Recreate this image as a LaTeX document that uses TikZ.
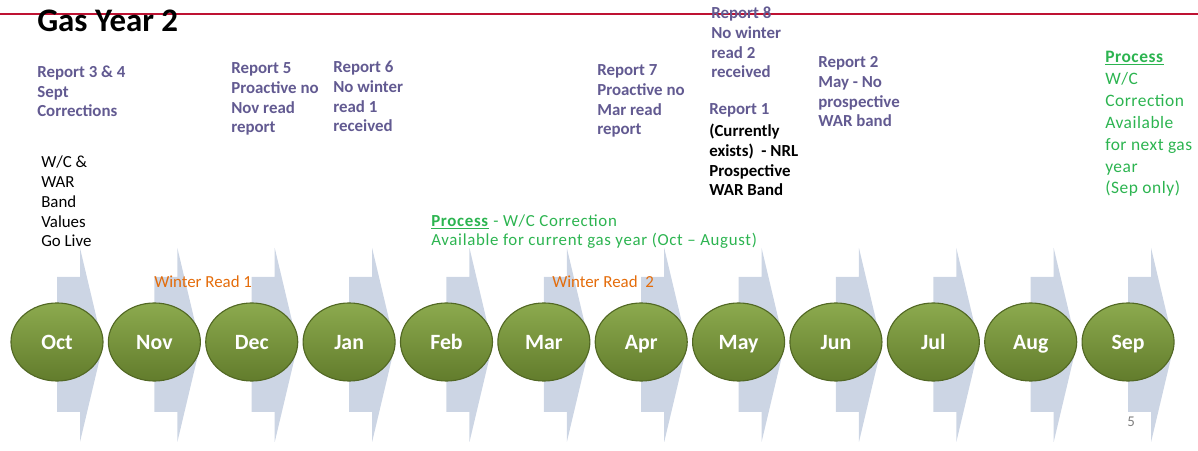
\documentclass[tikz,border=0pt]{standalone}
\usepackage{fontspec}
\setmainfont{Carlito}
\usepackage{tikz}
\usetikzlibrary{shapes.geometric}
\definecolor{reportColor}{RGB}{98,90,145}
\definecolor{processColor}{RGB}{44,180,80}
\definecolor{winterColor}{RGB}{228,108,10}
\definecolor{ruleColor}{RGB}{190,18,50}
\definecolor{arrowColor}{RGB}{204,213,228}
\definecolor{monthEdge}{RGB}{82,104,36}
\definecolor{monthTop}{RGB}{140,170,78}
\definecolor{monthMid}{RGB}{118,146,60}
\definecolor{monthBottom}{RGB}{98,124,44}
\definecolor{pageNumColor}{RGB}{128,128,128}
\tikzstyle{timeline} = [x = 0.025cm, y = -0.025cm]
\tikzstyle{monthArrowStyle} = [fill=arrowColor]
\tikzstyle{monthStyle} = [ellipse, minimum width=2.3cm, minimum height=1.95cm, inner sep=0pt, text height=10pt, text depth=0pt, draw=monthEdge, line width=0.8pt, top color=monthTop, middle color=monthMid, bottom color=monthBottom, text=white, font=\fontsize{15.5}{18}\selectfont\bfseries]
\tikzstyle{noteText} = [anchor=base west, align=left, inner sep=0pt, font=\fontsize{12}{14.17}\selectfont]
\tikzstyle{reportText} = [noteText, text=reportColor, font=\fontsize{12}{14.17}\selectfont\bfseries]
\tikzstyle{processText} = [noteText, text=processColor, font=\fontsize{12}{14.17}\selectfont\addfontfeature{LetterSpace=4}]
\tikzstyle{winterText} = [noteText, text=winterColor, font=\fontsize{12}{14.17}\selectfont]
\tikzstyle{ruleLine} = [color=ruleColor, line width=1.4pt]
\newcommand{\monthArrow}[1]{\fill [monthArrowStyle] (#1,277) -- ++(23,0) -- ++(0,-29) -- (#1+46,345) -- (#1+23,442) -- ++(0,-30) -- (#1,412) -- cycle;}

\begin{document}
\begin{tikzpicture}[timeline]
\useasboundingbox (0,0) rectangle (1198,451);
\draw [ruleLine] (0,14) -- (1198,14);
\node [noteText, font=\fontsize{23.4}{28}\selectfont\bfseries] (title) at (37,32) {Gas Year 2};
\foreach \m [count=\i from 0] in {Oct,Nov,Dec,Jan,Feb,Mar,Apr,May,Jun,Jul,Aug,Sep} {
  \pgfmathsetmacro{\cx}{57 + 97.37 * \i}
  \monthArrow{\cx}
}
\foreach \m [count=\i from 0] in {Oct,Nov,Dec,Jan,Feb,Mar,Apr,May,Jun,Jul,Aug,Sep} {
  \pgfmathsetmacro{\cx}{57 + 97.37 * \i}
  \node [monthStyle] (\m) at (\cx,342) {\m};
}
\node [reportText] (reportThreeFour) at (37,117) {Report 3 \& 4\\Sept\\Corrections};
\node [noteText] (goLive) at (41,247) {W/C \&\\WAR\\Band\\Values\\Go Live};
\node [reportText] (reportFive) at (231,133) {Report 5\\Proactive no\\Nov read\\report};
\node [reportText] (reportSix) at (333,132) {Report 6\\No winter\\read 1\\received};
\node [reportText] (reportSeven) at (597,135) {Report 7\\Proactive no\\Mar read\\report};
\node [reportText] (reportEight) at (711,78) {Report 8\\No winter\\read 2\\received};
\node [reportText] (reportOne) at (709,115) {Report 1};
\node [noteText, font=\fontsize{12}{14.17}\selectfont\bfseries] (nrlBand) at (709,196) {(Currently\\exists)\ \ - NRL\\Prospective\\WAR Band};
\node [reportText] (reportTwo) at (818,127) {Report 2\\May - No\\prospective\\WAR band};
\node [processText] (processMid) at (431,246) {\underline{\textbf{Process}} - W/C Correction\\Available for current gas year (Oct -- August)};
\node [processText, font=\fontsize{12.4}{15.6}\selectfont\addfontfeature{LetterSpace=3}] (processSep) at (1105,194) {\underline{\textbf{Process}}\\W/C\\Correction\\Available\\for next gas\\year\\(Sep only)};
\node [winterText] (winterOne) at (154,288) {Winter Read 1};
\node [winterText] (winterTwo) at (552,288) {Winter Read\ \ 2};
\node [noteText, text=pageNumColor, font=\fontsize{10.6}{13}\selectfont] (pageNum) at (1127,427) {5};
\end{tikzpicture}
\end{document}
